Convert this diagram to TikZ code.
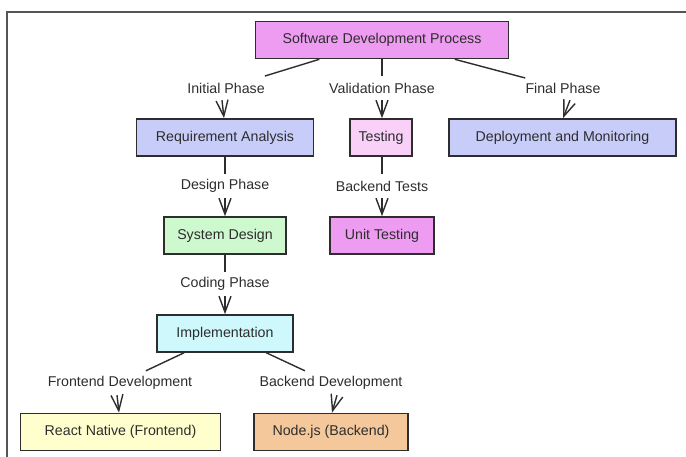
\documentclass[tikz,border=0pt]{standalone}
\usepackage{fontspec}
\setmainfont{Liberation Sans}
\usetikzlibrary{arrows.meta}
\definecolor{cviolet}{RGB}{238,156,242}
\definecolor{clav}{RGB}{200,204,248}
\definecolor{cpink}{RGB}{248,208,248}
\definecolor{cgreen}{RGB}{206,248,206}
\definecolor{ccyan}{RGB}{206,248,252}
\definecolor{cyellow}{RGB}{255,255,206}
\definecolor{cpeach}{RGB}{245,200,156}
\definecolor{ink}{RGB}{45,45,45}
\definecolor{framec}{RGB}{85,85,85}
\tikzset{
  box/.style={draw=ink, line width=1.6pt, inner sep=0pt, minimum height=37pt, text=ink,
    font=\fontsize{14.2}{16}\selectfont},
  lbl/.style={inner sep=0pt, minimum height=24pt, text=ink, font=\fontsize{14.2}{16}\selectfont},
  conn/.style={draw=ink, line width=1.4pt},
  arr/.style={draw=ink, line width=1.4pt, -{Straight Barb[length=16pt,width=12pt,line width=1.4pt]}},
}
\begin{document}
\begin{tikzpicture}[x=1pt,y=-1pt]
\useasboundingbox (0,0) rectangle (686,457);
\draw[framec, line width=2pt] (7,457) -- (7,12) -- (686,12);

% boxes
\node[box, fill=cviolet, minimum width=253pt] (root) at (382,40) {Software Development Process};
\node[box, fill=clav, minimum width=177pt] (req) at (225,137.5) {Requirement Analysis};
\node[box, fill=cpink, minimum width=62pt] (test) at (381,137.5) {Testing};
\node[box, fill=clav, minimum width=227pt] (dep) at (562.5,137.5) {Deployment and Monitoring};
\node[box, fill=cgreen, minimum width=122pt] (sys) at (225,235.5) {System Design};
\node[box, fill=cviolet, minimum width=104pt] (unit) at (382,235.5) {Unit Testing};
\node[box, fill=ccyan, minimum width=136pt] (impl) at (225,333.5) {Implementation};
\node[box, fill=cyellow, minimum width=200pt] (rn) at (120.5,432) {React Native (Frontend)};
\node[box, fill=cpeach, minimum width=154pt] (nd) at (331,432) {Node.js (Backend)};

% labels
\node[lbl] (l1) at (226,88) {Initial Phase};
\node[lbl] (l2) at (382,88) {Validation Phase};
\node[lbl] (l3) at (563,88) {Final Phase};
\node[lbl] (l4) at (225,186) {Design Phase};
\node[lbl] (l5) at (382,186) {Backend Tests};
\node[lbl] (l6) at (225,284) {Coding Phase};
\node[lbl] (l7) at (120,383) {Frontend Development};
\node[lbl] (l8) at (331,383) {Backend Development};

% connectors
\draw[conn] (root) -- (l1);
\draw[arr] ([xshift=-4pt]l1.south) -- ([xshift=-1pt]req.north);
\draw[conn] (root) -- (l2);
\draw[arr] (l2.south) -- (l2.south |- test.north);
\draw[conn] (root) -- (l3);
\draw[arr] ([xshift=7pt]l3.south) -- ([xshift=0.5pt]dep.north);
\draw[conn] (req) -- (l4);
\draw[arr] (l4.south) -- (sys.north);
\draw[conn] (test.south -| l5.north) -- (l5.north);
\draw[arr] (l5.south) -- (unit.north);
\draw[conn] (sys) -- (l6);
\draw[arr] (l6.south) -- (impl.north);
\draw[conn] (impl) -- (l7);
\draw[arr] ([xshift=-3pt]l7.south) -- ([xshift=-1.5pt]rn.north);
\draw[conn] (impl) -- (l8);
\draw[arr] ([xshift=6pt]l8.south) -- ([xshift=1pt]nd.north);
\end{tikzpicture}
\end{document}
